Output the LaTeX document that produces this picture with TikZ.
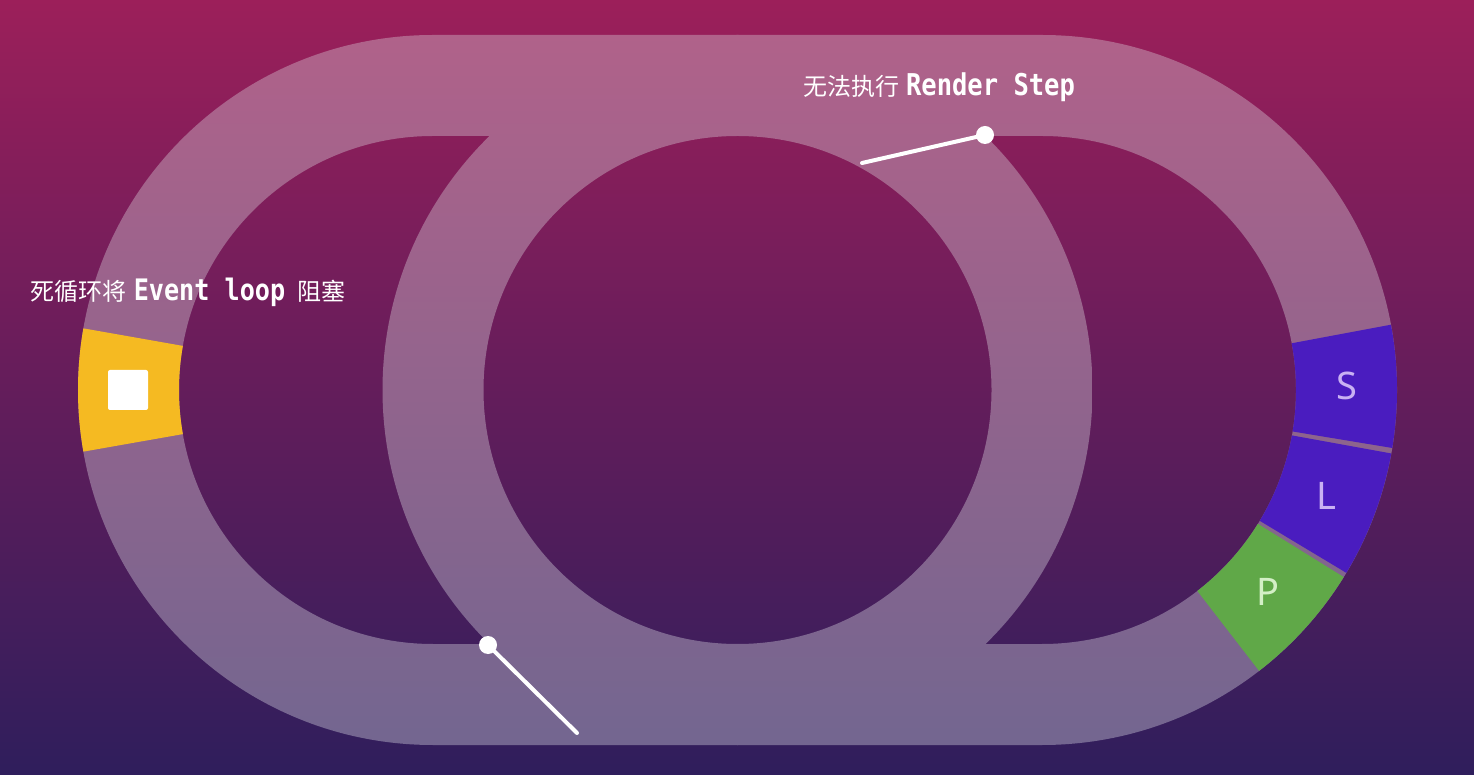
\documentclass[tikz,border=0pt]{standalone}
\usepackage{fontspec}
\newfontfamily\cjk{Noto Sans CJK SC}
\newfontfamily\monob[FakeStretch=0.85]{DejaVu Sans Mono}
\newfontfamily\segfont{Noto Sans}
\definecolor{bgtop}{HTML}{9C1F5A}
\definecolor{bgmid}{HTML}{641D5B}
\definecolor{bgbot}{HTML}{2F1E5C}
\definecolor{bandtop}{HTML}{B0628A}
\definecolor{bandbot}{HTML}{736690}
\definecolor{segyel}{HTML}{F5BA22}
\definecolor{segblue}{HTML}{4A1CBF}
\definecolor{seggreen}{HTML}{60A848}
\definecolor{letblue}{HTML}{C9B1F3}
\definecolor{letgreen}{HTML}{D3EFC6}
\tikzset{
  bandshade/.style={top color=bandtop, bottom color=bandbot},
  pointer/.style={draw=white, line width=4pt, line cap=round},
  pdot/.style={fill=white},
  seglabel/.style={font=\segfont\fontsize{38}{40}\selectfont, inner sep=0pt},
  caption/.style={text=white, inner sep=0pt, font=\fontsize{24}{28}\selectfont},
}
\begin{document}
\begin{tikzpicture}[x=1pt,y=1pt]
\useasboundingbox (0,0) rectangle (1474,774);
\shade[top color=bgtop, bottom color=bgbot, middle color=bgmid] (0,0) rectangle (1474,774);
\coordinate (cl) at (433,384);
\coordinate (cr) at (1042,384);
\coordinate (cc) at (737.5,384);
% outer band
\shade[bandshade, even odd rule]
  (433,739) -- (1042,739) arc[start angle=90, end angle=-90, radius=355pt]
  -- (433,29) arc[start angle=-90, end angle=-270, radius=355pt] -- cycle
  (433,638) -- (1042,638) arc[start angle=90, end angle=-90, radius=254pt]
  -- (433,130) arc[start angle=-90, end angle=-270, radius=254pt] -- cycle;
% central ring
\shade[bandshade, even odd rule] (cc) circle[radius=355pt] (cc) circle[radius=254pt];
% yellow segment
\fill[segyel] ([shift={(cl)}]170:355pt) arc[start angle=170, end angle=190, radius=355pt]
  -- ([shift={(cl)}]190:254pt) arc[start angle=190, end angle=170, radius=254pt] -- cycle;
\node[fill=white, minimum size=40pt, inner sep=0pt, rounded corners=2pt] (sq) at (128,384) {};
% right segments
\fill[segblue] ([shift={(cr)}]10.6:355pt) arc[start angle=10.6, end angle=-9.4, radius=355pt]
  -- ([shift={(cr)}]-9.4:254pt) arc[start angle=-9.4, end angle=10.6, radius=254pt] -- cycle;
\fill[segblue] ([shift={(cr)}]-10.3:355pt) arc[start angle=-10.3, end angle=-31.0, radius=355pt]
  -- ([shift={(cr)}]-31.0:254pt) arc[start angle=-31.0, end angle=-10.3, radius=254pt] -- cycle;
\fill[seggreen] ([shift={(cr)}]-31.8:355pt) arc[start angle=-31.8, end angle=-52.3, radius=355pt]
  -- ([shift={(cr)}]-52.3:254pt) arc[start angle=-52.3, end angle=-31.8, radius=254pt] -- cycle;
\node[seglabel, text=letblue] (tS) at (1347,388) {S};
\node[seglabel, text=letblue] (tL) at (1326,278) {L};
\node[seglabel, text=letgreen] (tP) at (1268,182) {P};
% pointers
\coordinate (d1) at (985,639);
\coordinate (e1) at (862,611);
\coordinate (d2) at (488,129);
\coordinate (e2) at (577,41);
\draw[pointer] (e1) -- (d1);
\draw[pointer] (d2) -- (e2);
\fill[pdot] (d1) circle[radius=9pt];
\fill[pdot] (d2) circle[radius=9pt];
% captions
\node[caption] (cap1) at (939,687) {{\cjk 无法执行}\hspace{7pt}{\monob\bfseries\fontsize{30}{32}\selectfont Render Step}};
\node[caption] (cap2) at (188,482) {{\cjk 死循环将}\hspace{7pt}{\monob\bfseries\fontsize{29.6}{32}\selectfont Event loop}\hspace{12pt}{\cjk 阻塞}};
\end{tikzpicture}
\end{document}
